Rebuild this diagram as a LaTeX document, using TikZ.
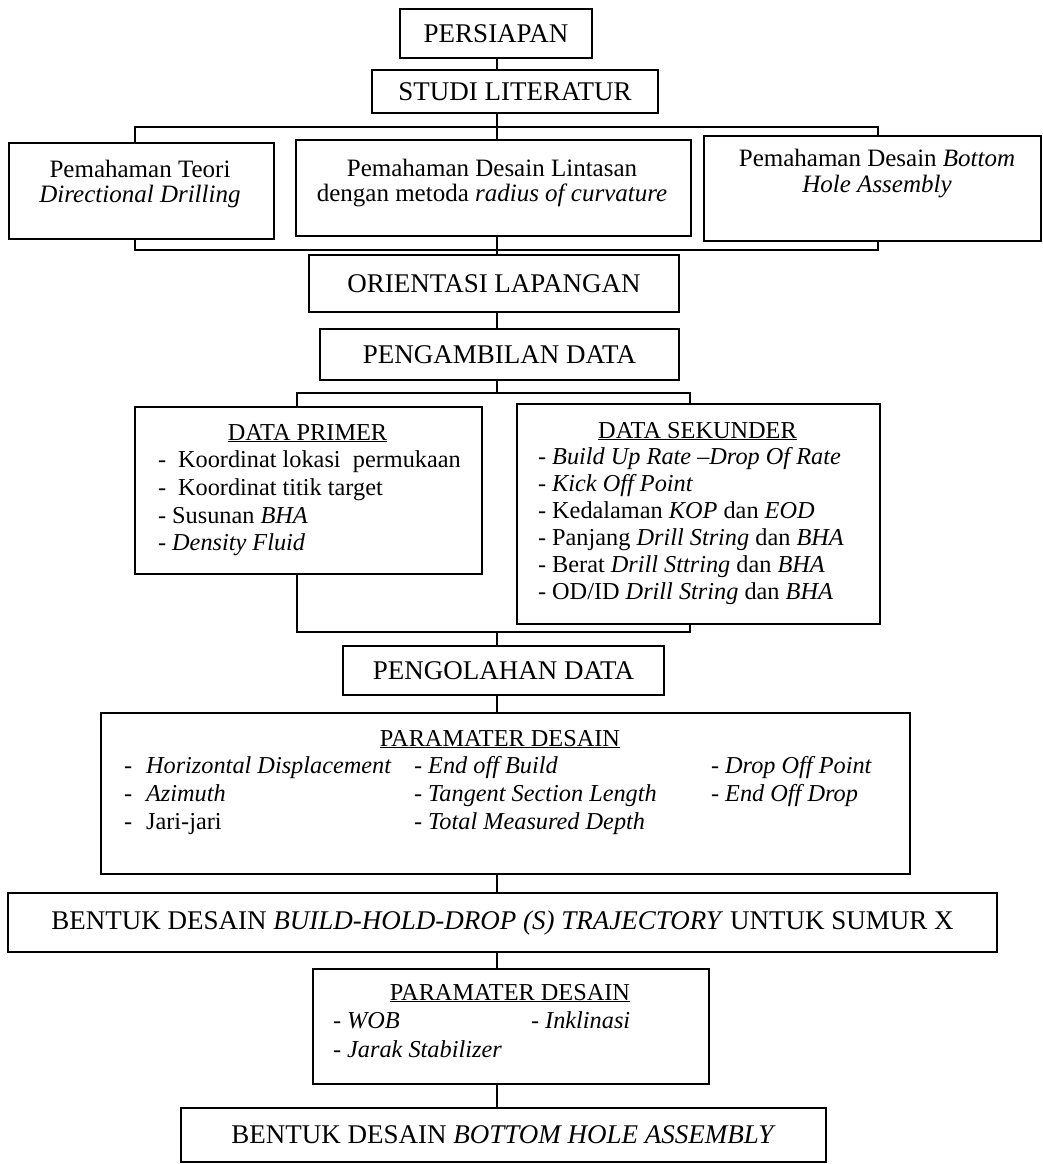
\documentclass[tikz,border=0pt]{standalone}
\usepackage{fontspec}
\setmainfont{Liberation Serif}
\begin{document}
\begin{tikzpicture}[x=1pt,y=-1pt,line width=2pt,
  box/.style={draw,line width=2pt,inner sep=0pt},
  frame/.style={box,anchor=north west},
  ttl/.style={font=\fontsize{27}{30}\selectfont},
  mid/.style={font=\fontsize{25}{28}\selectfont,inner sep=0pt,anchor=base},
  body/.style={font=\fontsize{24.3}{28}\selectfont,inner sep=0pt,anchor=base west},
  head/.style={font=\fontsize{24.3}{28}\selectfont,inner sep=0pt,anchor=base},
  conn/.style={line width=2pt}]
\useasboundingbox (0,0) rectangle (1042,1164);
\coordinate (spine) at (497,0);

% title boxes
\node[box,ttl,minimum width=192,minimum height=49] (persiapan) at (496,33.5) {PERSIAPAN};
\node[box,ttl,minimum width=286,minimum height=43] (studi) at (515,91.5) {STUDI LITERATUR};

% three boxes
\node[frame,minimum width=265,minimum height=96] (boxA) at (8,142) {};
\node[mid] (a1) at (140,177) {Pemahaman Teori};
\node[mid] (a2) at (140,202) {\itshape Directional Drilling};
\node[frame,minimum width=395,minimum height=96] (boxB) at (295,139) {};
\node[mid] (b1) at (492,176) {Pemahaman Desain Lintasan};
\node[mid] (b2) at (492,201) {dengan metoda \textit{radius of curvature}};
\node[frame,minimum width=337,minimum height=105] (boxC) at (703,135) {};
\node[mid] (c1) at (877,166) {Pemahaman Desain \textit{Bottom}};
\node[mid] (c2) at (877,192) {\itshape Hole Assembly};

\node[box,ttl,minimum width=370,minimum height=57] (orient) at (494,283.5) {ORIENTASI LAPANGAN};
\node[box,ttl,minimum width=359,minimum height=51] (ambil) at (499.5,354.5) {PENGAMBILAN DATA};

% data primer
\node[frame,minimum width=347,minimum height=167] (primer) at (134,406) {};
\node[head] (pt) at (307.5,440) {\underline{DATA PRIMER}};
\node[body] (p1) at (157,467) {-\hspace{12pt}Koordinat lokasi\ \ permukaan};
\node[body] (p2) at (157,495) {-\hspace{12pt}Koordinat titik target};
\node[body] (p3) at (157,523) {- Susunan \textit{BHA}};
\node[body] (p4) at (157,550) {- \textit{Density Fluid}};

% data sekunder
\node[frame,minimum width=363,minimum height=220] (sekunder) at (516,403) {};
\node[head] (st) at (697.5,438) {\underline{DATA SEKUNDER}};
\node[body] (s1) at (537,464) {- \textit{Build Up Rate --Drop Of Rate}};
\node[body] (s2) at (537,491) {- \textit{Kick Off Point}};
\node[body] (s3) at (537,518) {- Kedalaman \textit{KOP} dan \textit{EOD}};
\node[body] (s4) at (537,545) {- Panjang \textit{Drill String} dan \textit{BHA}};
\node[body] (s5) at (537,572) {- Berat \textit{Drill Sttring} dan \textit{BHA}};
\node[body] (s6) at (537,599) {- OD/ID \textit{Drill String} dan \textit{BHA}};

\node[box,ttl,minimum width=321,minimum height=49] (olah) at (503.5,670.5) {PENGOLAHAN DATA};

% parameter desain 1
\node[frame,minimum width=809,minimum height=161] (param) at (100,712) {};
\node[head] (qt) at (500,746) {\underline{PARAMATER DESAIN}};
\node[body] (q1) at (123,773) {-\hspace{14pt}\textit{Horizontal Displacement}};
\node[body] (q2) at (123,801) {-\hspace{14pt}\textit{Azimuth}};
\node[body] (q3) at (123,829) {-\hspace{14pt}Jari-jari};
\node[body] (q4) at (413,773) {- \textit{End off Build}};
\node[body] (q5) at (413,801) {- \textit{Tangent Section Length}};
\node[body] (q6) at (413,829) {- \textit{Total Measured Depth}};
\node[body] (q7) at (710,773) {- \textit{Drop Off Point}};
\node[body] (q8) at (710,801) {- \textit{End Off Drop}};

\node[box,ttl,minimum width=989,minimum height=59] (bentuk) at (502.5,922.5) {BENTUK DESAIN \textit{BUILD-HOLD-DROP (S) TRAJECTORY} UNTUK SUMUR X};

% parameter desain 2
\node[frame,minimum width=396,minimum height=115] (paramb) at (312,968) {};
\node[head] (rt) at (510,1000) {\underline{PARAMATER DESAIN}};
\node[body] (r1) at (332,1028) {- \textit{WOB}};
\node[body] (r2) at (530,1028) {- \textit{Inklinasi}};
\node[body] (r3) at (332,1057) {- \textit{Jarak Stabilizer}};

\node[box,ttl,minimum width=645,minimum height=54] (bha) at (503.5,1135) {BENTUK DESAIN \textit{BOTTOM HOLE ASSEMBLY}};

% connectors
\draw[conn] (persiapan.south -| spine) -- (studi.north -| spine);
\draw[conn] (studi.south -| spine) -- (boxB.north -| spine);
\draw[conn] (boxA.north -| 135,0) |- (878,127) -- (boxC.north -| 878,0);
\draw[conn] (boxA.south -| 135,0) |- (878,250) -- (boxC.south -| 878,0);
\draw[conn] (boxB.south -| spine) -- (orient.north -| spine);
\draw[conn] (orient.south -| spine) -- (ambil.north -| spine);
\draw[conn] (ambil.south -| spine) -- (497,393);
\draw[conn] (primer.north -| 297,0) |- (690,393) -- (sekunder.north -| 690,0);
\draw[conn] (primer.south -| 297,0) |- (690,632) -- (sekunder.south -| 690,0);
\draw[conn] (497,632) -- (olah.north -| spine);
\draw[conn] (olah.south -| spine) -- (param.north -| spine);
\draw[conn] (param.south -| spine) -- (bentuk.north -| spine);
\draw[conn] (bentuk.south -| spine) -- (paramb.north -| spine);
\draw[conn] (paramb.south -| spine) -- (bha.north -| spine);
\end{tikzpicture}
\end{document}
